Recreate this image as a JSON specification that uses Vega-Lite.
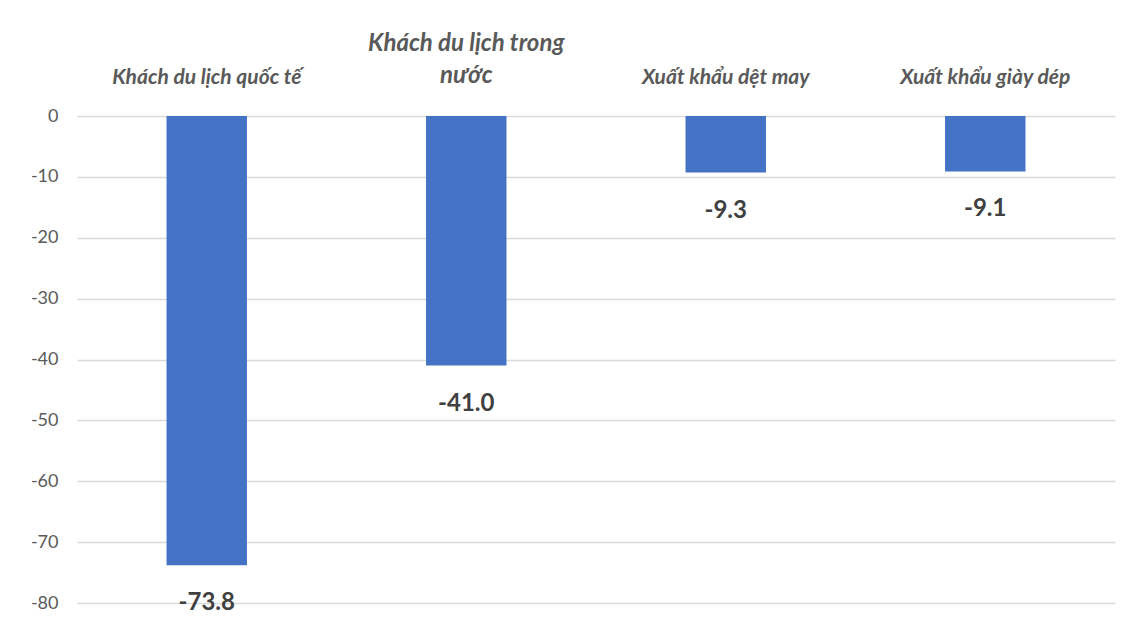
{
  "$schema": "https://vega.github.io/schema/vega-lite/v6.json",
  "width": 1038,
  "height": 487,
  "autosize": {"type": "none"},
  "padding": {"left": 77, "top": 116, "right": 10, "bottom": 28},
  "background": "white",
  "config": {"view": {"stroke": null}},
  "data": {"values": [
    {"category": "Khách du lịch quốc tế", "value": -73.8, "label": "-73.8"},
    {"category": "Khách du lịch trong nước", "value": -41.0, "label": "-41.0"},
    {"category": "Xuất khẩu dệt may", "value": -9.3, "label": "-9.3"},
    {"category": "Xuất khẩu giày dép", "value": -9.1, "label": "-9.1"}
  ]},
  "encoding": {
    "x": {
      "field": "category", "type": "nominal", "sort": null,
      "scale": {"paddingInner": 0.69, "paddingOuter": 0.345},
      "axis": {
        "orient": "top", "title": null, "domain": false, "ticks": false,
        "labelAngle": 0, "labelFont": "Lato",
        "labelFontSize": {"condition": {"test": "datum.value == 'Khách du lịch trong nước'", "value": 24}, "value": 21},
        "labelFontStyle": "italic", "labelFontWeight": "bold", "labelColor": "#595959",
        "labelPadding": 61, "labelLimit": 300, "labelLineHeight": 32,
        "labelExpr": "datum.label == 'Khách du lịch trong nước' ? ['Khách du lịch trong', 'nước'] : ['', datum.label]"
      }
    }
  },
  "layer": [
    {
      "mark": {"type": "bar", "color": "#4472C4"},
      "encoding": {
        "y": {
          "field": "value", "type": "quantitative",
          "scale": {"domain": [-80, 0], "nice": false},
          "axis": {
            "title": null, "domain": false, "ticks": false, "values": [0, -10, -20, -30, -40, -50, -60, -70, -80],
            "labelExpr": "datum.value < 0 ? '-' + abs(datum.value) : '' + datum.value",
            "labelFont": "Lato", "labelFontSize": 18, "labelColor": "#595959",
            "labelPadding": 19, "gridColor": "#d9d9d9", "gridWidth": 1.5
          }
        }
      }
    },
    {
      "mark": {"type": "text", "baseline": "middle", "dy": 38, "font": "Lato", "fontSize": 24, "fontWeight": "bold", "color": "#404040"},
      "encoding": {
        "y": {"field": "value", "type": "quantitative"},
        "text": {"field": "label", "type": "nominal"}
      }
    }
  ]
}
